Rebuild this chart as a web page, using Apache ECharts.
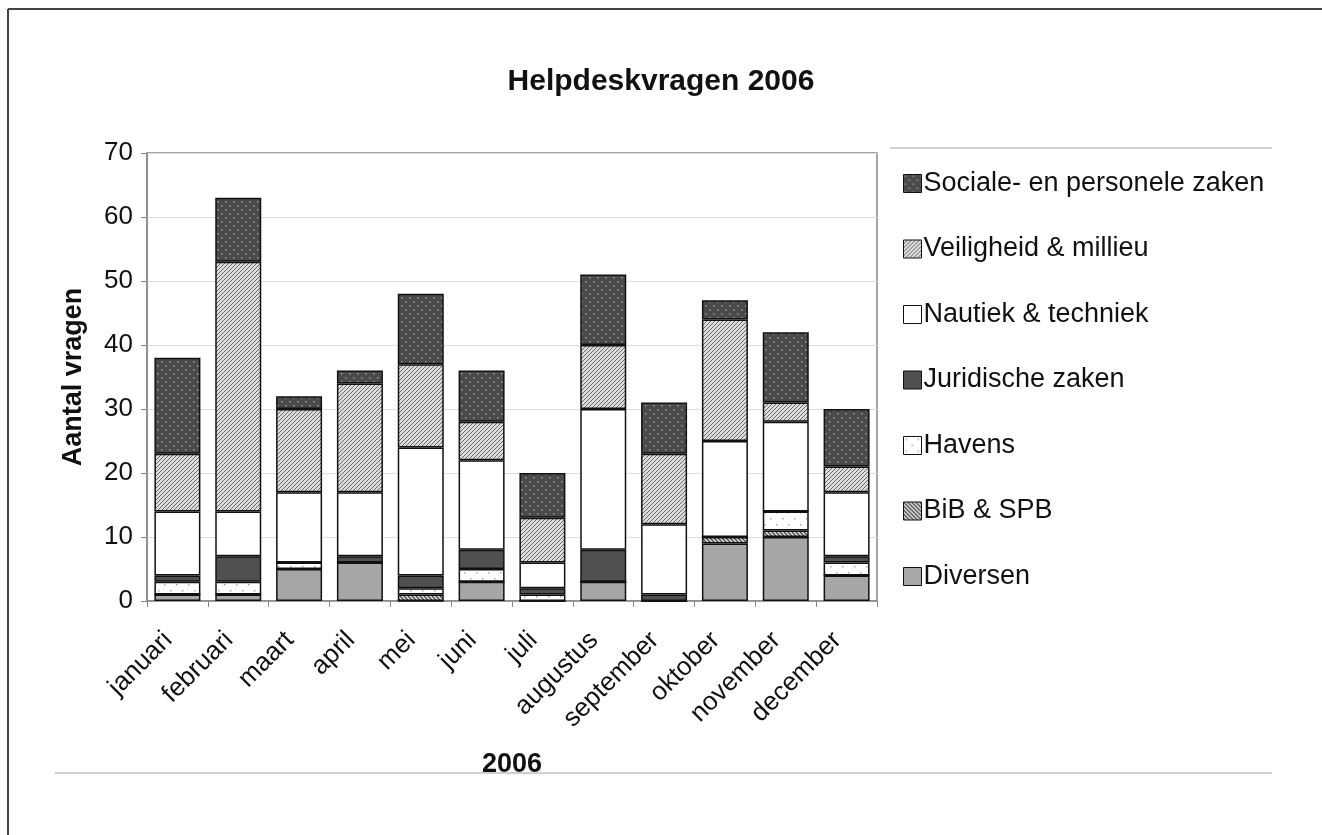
<!DOCTYPE html>
<html>
<head>
<meta charset="utf-8">
<script src="https://cdn.jsdelivr.net/npm/echarts@6/dist/echarts.min.js"></script>
<style>html,body{margin:0;padding:0;background:#fff}#c{width:1322px;height:835px}</style>
</head>
<body>
<div id="c"></div>
<script>
const months = ['januari','februari','maart','april','mei','juni','juli','augustus','september','oktober','november','december'];
const yTicks = [0,10,20,30,40,50,60,70];
const diversen  = [1,1,5,6,0,3,0,3,0,9,10,4];
const bibSpb    = [0,0,0,0,1,0,0,0,0,1,1,0];
const havens    = [2,2,1,0,1,2,1,0,0,0,3,2];
const juridisch = [1,4,0,1,2,3,1,5,1,0,0,1];
const nautiek   = [10,7,11,10,20,14,4,22,11,15,14,10];
const veiligheid= [9,39,13,17,13,6,7,10,11,19,3,4];
const sociale   = [15,10,2,2,11,8,7,11,8,3,11,9];

function pat(w,h,draw){const c=document.createElement('canvas');c.width=w;c.height=h;const x=c.getContext('2d');draw(x,w,h);return {image:c,repeat:'repeat'};}
const pSociale = pat(8,8,(x,w,h)=>{x.fillStyle='#4a4a4a';x.fillRect(0,0,w,h);x.fillStyle='#9a9a9a';x.fillRect(1,1,1.5,1.5);x.fillRect(5,5,1.5,1.5);});
const pVeil = pat(4,4,(x,w,h)=>{x.fillStyle='#dcdcdc';x.fillRect(0,0,w,h);x.strokeStyle='#6a6a6a';x.lineWidth=1;x.beginPath();x.moveTo(0,4);x.lineTo(4,0);x.moveTo(-1,1);x.lineTo(1,-1);x.moveTo(3,5);x.lineTo(5,3);x.stroke();});
const pHavens = pat(12,12,(x,w,h)=>{x.fillStyle='#ffffff';x.fillRect(0,0,w,h);x.fillStyle='#aaaaaa';x.fillRect(2,2,1.5,1.5);x.fillRect(8,8,1.5,1.5);});
const pBib = pat(4,4,(x,w,h)=>{x.fillStyle='#e0e0e0';x.fillRect(0,0,w,h);x.strokeStyle='#333';x.lineWidth=1.2;x.beginPath();x.moveTo(0,0);x.lineTo(4,4);x.moveTo(3,-1);x.lineTo(5,1);x.moveTo(-1,3);x.lineTo(1,5);x.stroke();});
const pDiv = pat(4,4,(x,w,h)=>{x.fillStyle='#a8a8a8';x.fillRect(0,0,w,h);x.fillStyle='#9c9c9c';x.fillRect(0,0,1,1);x.fillRect(2,2,1,1);});

const defs = [
  ['Diversen', diversen, pDiv],
  ['BiB & SPB', bibSpb, pBib],
  ['Havens', havens, pHavens],
  ['Juridische zaken', juridisch, '#505050'],
  ['Nautiek & techniek', nautiek, '#ffffff'],
  ['Veiligheid & millieu', veiligheid, pVeil],
  ['Sociale- en personele zaken', sociale, pSociale]
];
const series = defs.map(d=>({
  name:d[0], type:'bar', stack:'t', data:d[1], barWidth:46,
  itemStyle:{color:d[2], borderColor:'#111', borderWidth:1.5},
  emphasis:{disabled:true}
}));

const FF = 'Liberation Sans, Arial, sans-serif';
const chart = echarts.init(document.getElementById('c'),null,{renderer:'canvas'});
chart.setOption({
  animation:false,
  backgroundColor:'#fff',
  textStyle:{fontFamily:FF},
  title:{text:'Helpdeskvragen 2006',left:656,top:62,textAlign:'center',
    textStyle:{fontSize:30,fontWeight:'bold',color:'#111',fontFamily:FF}},
  legend:{orient:'vertical',left:898,top:165,itemWidth:18,itemHeight:18,itemGap:38.5,icon:'rect',
    data:defs.map(d=>d[0]).reverse(),
    itemStyle:{borderColor:'#111',borderWidth:1},
    textStyle:{fontSize:27,color:'#111',lineHeight:27,padding:[0,0,0,-3]}},
  grid:{left:147,right:445,top:153,bottom:234,show:true,borderColor:'#888',borderWidth:1.5},
  xAxis:{type:'category',data:months,name:'2006',nameLocation:'middle',nameGap:150,
    nameTextStyle:{fontSize:27,fontWeight:'bold',color:'#111'},
    axisLine:{lineStyle:{color:'#888',width:1.5}},
    axisTick:{show:true,length:6,lineStyle:{color:'#888'}},
    axisLabel:{rotate:45,fontSize:26,color:'#111',margin:26,padding:[0,13,0,0],interval:0}},
  yAxis:{type:'value',min:0,max:70,interval:10,name:'Aantal vragen',nameLocation:'middle',nameGap:60,
    nameTextStyle:{fontSize:27,fontWeight:'bold',color:'#111'},
    axisLine:{show:true,lineStyle:{color:'#888',width:1.5}},
    axisTick:{show:true,length:6,lineStyle:{color:'#888'}},
    axisLabel:{fontSize:26,color:'#111',margin:14,formatter:v=>yTicks.includes(v)?String(v):''},
    splitLine:{lineStyle:{color:'#dedede',width:1}}},
  graphic:[
    {type:'line',shape:{x1:8,y1:9,x2:1322,y2:9},style:{stroke:'#444',lineWidth:2}},
    {type:'line',shape:{x1:8,y1:9,x2:8,y2:835},style:{stroke:'#444',lineWidth:2}},
    {type:'line',shape:{x1:890,y1:148,x2:1272,y2:148},style:{stroke:'#d0d0d0',lineWidth:2}},
    {type:'line',shape:{x1:55,y1:773,x2:1272,y2:773},style:{stroke:'#d0d0d0',lineWidth:2}}
  ],
  series:series
});
</script>
</body>
</html>
